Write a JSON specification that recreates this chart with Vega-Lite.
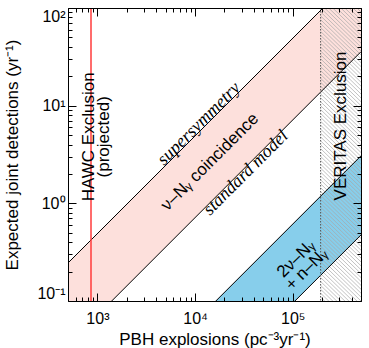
{
  "$schema": "https://vega.github.io/schema/vega-lite/v6.json",
  "width": 293,
  "height": 293,
  "autosize": {"type": "none"},
  "padding": {"left": 68, "top": 8, "right": 8, "bottom": 47},
  "background": "white",
  "config": {
    "view": {"stroke": null},
    "font": "Liberation Sans",
    "axis": {
      "domainColor": "black", "domainWidth": 1, "tickColor": "black", "tickWidth": 1,
      "labelColor": "black", "titleColor": "black", "grid": false,
      "labelFont": "Liberation Sans", "titleFont": "Liberation Sans",
      "labelFontSize": 15, "titleFontSize": 17, "titleFontWeight": "normal"
    }
  },
  "datasets": {
    "bands": [
      {"x": 500, "pu": 0.245, "pl": 0.0357, "bu": 0.003065, "bl": 0.000475},
      {"x": 500000, "pu": 245, "pl": 35.7, "bu": 3.065, "bl": 0.475}
    ],
    "refs": [
      {"kind": "veritas", "x": 193000},
      {"kind": "hawc", "x": 860}
    ],
    "labels": [
      {"kind": "vert", "t": "HAWC Exclusion\n(projected)", "x": 830, "y": 4.8},
      {"kind": "vert", "t": "VERITAS Exclusion", "x": 311000, "y": 6.2},
      {"kind": "diag", "t": "ν–Nᵧ coincidence", "x": 14200, "y": 2.65},
      {"kind": "diag", "t": "2ν–Nᵧ\n+ n–Nᵧ", "x": 108000, "y": 0.27},
      {"kind": "serif", "t": "supersymmetry", "x": 11000, "y": 6.5},
      {"kind": "serif", "t": "standard model", "x": 33200, "y": 2.05}
    ],
    "hatch": [
      {"xa": 193000, "xb": 500000, "h": 0.1, "h2": 0.03981},
      {"xa": 193000, "xb": 500000, "h": 0.1097, "h2": 0.04365},
      {"xa": 193000, "xb": 500000, "h": 0.1202, "h2": 0.04786},
      {"xa": 193000, "xb": 500000, "h": 0.1318, "h2": 0.05248},
      {"xa": 193000, "xb": 500000, "h": 0.1445, "h2": 0.05754},
      {"xa": 193000, "xb": 500000, "h": 0.1585, "h2": 0.0631},
      {"xa": 193000, "xb": 500000, "h": 0.1738, "h2": 0.06918},
      {"xa": 193000, "xb": 500000, "h": 0.1905, "h2": 0.07586},
      {"xa": 193000, "xb": 500000, "h": 0.2089, "h2": 0.08318},
      {"xa": 193000, "xb": 500000, "h": 0.2291, "h2": 0.0912},
      {"xa": 193000, "xb": 500000, "h": 0.2512, "h2": 0.1},
      {"xa": 193000, "xb": 500000, "h": 0.2754, "h2": 0.1097},
      {"xa": 193000, "xb": 500000, "h": 0.302, "h2": 0.1202},
      {"xa": 193000, "xb": 500000, "h": 0.3311, "h2": 0.1318},
      {"xa": 193000, "xb": 500000, "h": 0.3631, "h2": 0.1445},
      {"xa": 193000, "xb": 500000, "h": 0.3981, "h2": 0.1585},
      {"xa": 193000, "xb": 500000, "h": 0.4365, "h2": 0.1738},
      {"xa": 193000, "xb": 500000, "h": 0.4786, "h2": 0.1905},
      {"xa": 193000, "xb": 500000, "h": 0.5248, "h2": 0.2089},
      {"xa": 193000, "xb": 500000, "h": 0.5754, "h2": 0.2291},
      {"xa": 193000, "xb": 500000, "h": 0.631, "h2": 0.2512},
      {"xa": 193000, "xb": 500000, "h": 0.6918, "h2": 0.2754},
      {"xa": 193000, "xb": 500000, "h": 0.7586, "h2": 0.302},
      {"xa": 193000, "xb": 500000, "h": 0.8318, "h2": 0.3311},
      {"xa": 193000, "xb": 500000, "h": 0.912, "h2": 0.3631},
      {"xa": 193000, "xb": 500000, "h": 1, "h2": 0.3981},
      {"xa": 193000, "xb": 500000, "h": 1.097, "h2": 0.4365},
      {"xa": 193000, "xb": 500000, "h": 1.202, "h2": 0.4786},
      {"xa": 193000, "xb": 500000, "h": 1.318, "h2": 0.5248},
      {"xa": 193000, "xb": 500000, "h": 1.445, "h2": 0.5754},
      {"xa": 193000, "xb": 500000, "h": 1.585, "h2": 0.631},
      {"xa": 193000, "xb": 500000, "h": 1.738, "h2": 0.6918},
      {"xa": 193000, "xb": 500000, "h": 1.905, "h2": 0.7586},
      {"xa": 193000, "xb": 500000, "h": 2.089, "h2": 0.8318},
      {"xa": 193000, "xb": 500000, "h": 2.291, "h2": 0.912},
      {"xa": 193000, "xb": 500000, "h": 2.512, "h2": 1},
      {"xa": 193000, "xb": 500000, "h": 2.754, "h2": 1.097},
      {"xa": 193000, "xb": 500000, "h": 3.02, "h2": 1.202},
      {"xa": 193000, "xb": 500000, "h": 3.311, "h2": 1.318},
      {"xa": 193000, "xb": 500000, "h": 3.631, "h2": 1.445},
      {"xa": 193000, "xb": 500000, "h": 3.981, "h2": 1.585},
      {"xa": 193000, "xb": 500000, "h": 4.365, "h2": 1.738},
      {"xa": 193000, "xb": 500000, "h": 4.786, "h2": 1.905},
      {"xa": 193000, "xb": 500000, "h": 5.248, "h2": 2.089},
      {"xa": 193000, "xb": 500000, "h": 5.754, "h2": 2.291},
      {"xa": 193000, "xb": 500000, "h": 6.31, "h2": 2.512},
      {"xa": 193000, "xb": 500000, "h": 6.918, "h2": 2.754},
      {"xa": 193000, "xb": 500000, "h": 7.586, "h2": 3.02},
      {"xa": 193000, "xb": 500000, "h": 8.318, "h2": 3.311},
      {"xa": 193000, "xb": 500000, "h": 9.12, "h2": 3.631},
      {"xa": 193000, "xb": 500000, "h": 10, "h2": 3.981},
      {"xa": 193000, "xb": 500000, "h": 10.97, "h2": 4.365},
      {"xa": 193000, "xb": 500000, "h": 12.02, "h2": 4.786},
      {"xa": 193000, "xb": 500000, "h": 13.18, "h2": 5.248},
      {"xa": 193000, "xb": 500000, "h": 14.45, "h2": 5.754},
      {"xa": 193000, "xb": 500000, "h": 15.85, "h2": 6.31},
      {"xa": 193000, "xb": 500000, "h": 17.38, "h2": 6.918},
      {"xa": 193000, "xb": 500000, "h": 19.05, "h2": 7.586},
      {"xa": 193000, "xb": 500000, "h": 20.89, "h2": 8.318},
      {"xa": 193000, "xb": 500000, "h": 22.91, "h2": 9.12},
      {"xa": 193000, "xb": 500000, "h": 25.12, "h2": 10},
      {"xa": 193000, "xb": 500000, "h": 27.54, "h2": 10.97},
      {"xa": 193000, "xb": 500000, "h": 30.2, "h2": 12.02},
      {"xa": 193000, "xb": 500000, "h": 33.11, "h2": 13.18},
      {"xa": 193000, "xb": 500000, "h": 36.31, "h2": 14.45},
      {"xa": 193000, "xb": 500000, "h": 39.81, "h2": 15.85},
      {"xa": 193000, "xb": 500000, "h": 43.65, "h2": 17.38},
      {"xa": 193000, "xb": 500000, "h": 47.86, "h2": 19.05},
      {"xa": 193000, "xb": 500000, "h": 52.48, "h2": 20.89},
      {"xa": 193000, "xb": 500000, "h": 57.54, "h2": 22.91},
      {"xa": 193000, "xb": 500000, "h": 63.1, "h2": 25.12},
      {"xa": 193000, "xb": 500000, "h": 69.18, "h2": 27.54},
      {"xa": 193000, "xb": 500000, "h": 75.86, "h2": 30.2},
      {"xa": 193000, "xb": 500000, "h": 83.18, "h2": 33.11},
      {"xa": 193000, "xb": 500000, "h": 91.2, "h2": 36.31},
      {"xa": 193000, "xb": 500000, "h": 100, "h2": 39.81},
      {"xa": 193000, "xb": 500000, "h": 109.7, "h2": 43.65},
      {"xa": 193000, "xb": 500000, "h": 120.2, "h2": 47.86},
      {"xa": 193000, "xb": 500000, "h": 131.8, "h2": 52.48},
      {"xa": 193000, "xb": 500000, "h": 144.5, "h2": 57.54},
      {"xa": 193000, "xb": 500000, "h": 158.5, "h2": 63.1},
      {"xa": 193000, "xb": 500000, "h": 173.8, "h2": 69.18},
      {"xa": 193000, "xb": 500000, "h": 190.5, "h2": 75.86},
      {"xa": 193000, "xb": 500000, "h": 208.9, "h2": 83.18},
      {"xa": 193000, "xb": 500000, "h": 229.1, "h2": 91.2}
    ]
  },
  "resolve": {"axis": {"x": "independent", "y": "independent"}},
  "layer": [
    {
      "data": {"name": "bands"},
      "mark": {"type": "area", "clip": true, "color": "#fde0dc"},
      "encoding": {
        "x": {"field": "x", "type": "quantitative", "scale": {"type": "log", "domain": [500, 500000], "nice": false},
          "axis": {"orient": "bottom", "zindex": 1,
            "values": [500,600,700,800,900,1000,2000,3000,4000,5000,6000,7000,8000,9000,10000,20000,30000,40000,50000,60000,70000,80000,90000,100000,200000,300000,400000,500000],
            "tickSize": {"condition": {"test": "indexof([1000,10000,100000], datum.value) >= 0", "value": -8}, "value": -4},
            "labelExpr": "datum.value == 1000 ? '10³' : datum.value == 10000 ? '10⁴' : datum.value == 100000 ? '10⁵' : ''",
            "labelPadding": 17, "labelOverlap": false, "labelFlush": false, "labelFontSize": 16,
            "title": "PBH explosions (pc⁻³yr⁻¹)", "titlePadding": 1}},
        "y": {"field": "pu", "type": "quantitative", "scale": {"type": "log", "domain": [0.1, 100], "nice": false},
          "axis": {"orient": "left", "zindex": 1,
            "values": [0.1,0.2,0.3,0.4,0.5,0.6,0.7,0.8,0.9,1,2,3,4,5,6,7,8,9,10,20,30,40,50,60,70,80,90,100],
            "tickSize": {"condition": {"test": "indexof([0.1,1,10,100], datum.value) >= 0", "value": -8}, "value": -4},
            "labelExpr": "datum.value == 0.1 ? '10⁻¹' : datum.value == 1 ? '10⁰' : datum.value == 10 ? '10¹' : datum.value == 100 ? '10²' : ''",
            "labelPadding": 11, "labelOverlap": false, "labelFlush": true, "labelFontSize": 16,
            "title": "Expected joint detections (yr⁻¹)", "titlePadding": 15}},
        "y2": {"field": "pl"}
      }
    },
    {
      "data": {"name": "bands"},
      "mark": {"type": "area", "clip": true, "color": "#87ceeb"},
      "encoding": {
        "x": {"field": "x", "type": "quantitative", "scale": {"type": "log", "domain": [500, 500000], "nice": false},
          "axis": {"orient": "top", "zindex": 1, "labels": false, "title": null,
            "values": [500,600,700,800,900,1000,2000,3000,4000,5000,6000,7000,8000,9000,10000,20000,30000,40000,50000,60000,70000,80000,90000,100000,200000,300000,400000,500000],
            "tickSize": {"condition": {"test": "indexof([1000,10000,100000], datum.value) >= 0", "value": -8}, "value": -4}}},
        "y": {"field": "bu", "type": "quantitative", "scale": {"type": "log", "domain": [0.1, 100], "nice": false},
          "axis": {"orient": "right", "zindex": 1, "labels": false, "title": null,
            "values": [0.1,0.2,0.3,0.4,0.5,0.6,0.7,0.8,0.9,1,2,3,4,5,6,7,8,9,10,20,30,40,50,60,70,80,90,100],
            "tickSize": {"condition": {"test": "indexof([0.1,1,10,100], datum.value) >= 0", "value": -8}, "value": -4}}},
        "y2": {"field": "bl"}
      }
    },
    {
      "data": {"name": "hatch"},
      "mark": {"type": "rule", "clip": true, "color": "#a8a8a8", "strokeWidth": 0.7},
      "encoding": {
        "x": {"field": "xa", "type": "quantitative", "scale": {"type": "log", "domain": [500, 500000], "nice": false}, "axis": null},
        "x2": {"field": "xb"},
        "y": {"field": "h", "type": "quantitative", "scale": {"type": "log", "domain": [0.1, 100], "nice": false}, "axis": null},
        "y2": {"field": "h2"}
      }
    },
    {
      "data": {"name": "bands"},
      "transform": [{"fold": ["pu", "pl", "bu", "bl"], "as": ["edge", "v"]}],
      "mark": {"type": "line", "clip": true, "color": "black", "strokeWidth": 1},
      "encoding": {
        "x": {"field": "x", "type": "quantitative", "scale": {"type": "log", "domain": [500, 500000], "nice": false}, "axis": null},
        "y": {"field": "v", "type": "quantitative", "scale": {"type": "log", "domain": [0.1, 100], "nice": false}, "axis": null},
        "detail": {"field": "edge"}
      }
    },
    {
      "data": {"name": "refs"},
      "transform": [{"filter": "datum.kind == 'veritas'"}],
      "mark": {"type": "rule", "color": "#555555", "strokeWidth": 1, "strokeDash": [1.5, 1.5]},
      "encoding": {
        "x": {"field": "x", "type": "quantitative", "scale": {"type": "log", "domain": [500, 500000], "nice": false}, "axis": null}
      }
    },
    {
      "data": {"name": "refs"},
      "transform": [{"filter": "datum.kind == 'hawc'"}],
      "mark": {"type": "rule", "color": "#ff3b3b", "strokeWidth": 1.5},
      "encoding": {
        "x": {"field": "x", "type": "quantitative", "scale": {"type": "log", "domain": [500, 500000], "nice": false}, "axis": null}
      }
    },
    {
      "data": {"name": "labels"},
      "transform": [{"filter": "datum.kind == 'vert'"}],
      "mark": {"type": "text", "angle": 270, "font": "Liberation Sans", "fontSize": 17, "lineBreak": "\n", "lineHeight": 15, "align": "center", "baseline": "middle", "color": "black"},
      "encoding": {
        "x": {"field": "x", "type": "quantitative", "scale": {"type": "log", "domain": [500, 500000], "nice": false}, "axis": null},
        "y": {"field": "y", "type": "quantitative", "scale": {"type": "log", "domain": [0.1, 100], "nice": false}, "axis": null},
        "text": {"field": "t"}
      }
    },
    {
      "data": {"name": "labels"},
      "transform": [{"filter": "datum.kind == 'diag'"}],
      "mark": {"type": "text", "angle": 315, "font": "Liberation Sans", "fontSize": 17, "lineBreak": "\n", "lineHeight": 15, "align": "center", "baseline": "middle", "color": "black"},
      "encoding": {
        "x": {"field": "x", "type": "quantitative", "scale": {"type": "log", "domain": [500, 500000], "nice": false}, "axis": null},
        "y": {"field": "y", "type": "quantitative", "scale": {"type": "log", "domain": [0.1, 100], "nice": false}, "axis": null},
        "text": {"field": "t"}
      }
    },
    {
      "data": {"name": "labels"},
      "transform": [{"filter": "datum.kind == 'serif'"}],
      "mark": {"type": "text", "angle": 315, "font": "Liberation Serif", "fontStyle": "italic", "fontSize": 18, "align": "center", "baseline": "middle", "color": "black"},
      "encoding": {
        "x": {"field": "x", "type": "quantitative", "scale": {"type": "log", "domain": [500, 500000], "nice": false}, "axis": null},
        "y": {"field": "y", "type": "quantitative", "scale": {"type": "log", "domain": [0.1, 100], "nice": false}, "axis": null},
        "text": {"field": "t"}
      }
    }
  ]
}
